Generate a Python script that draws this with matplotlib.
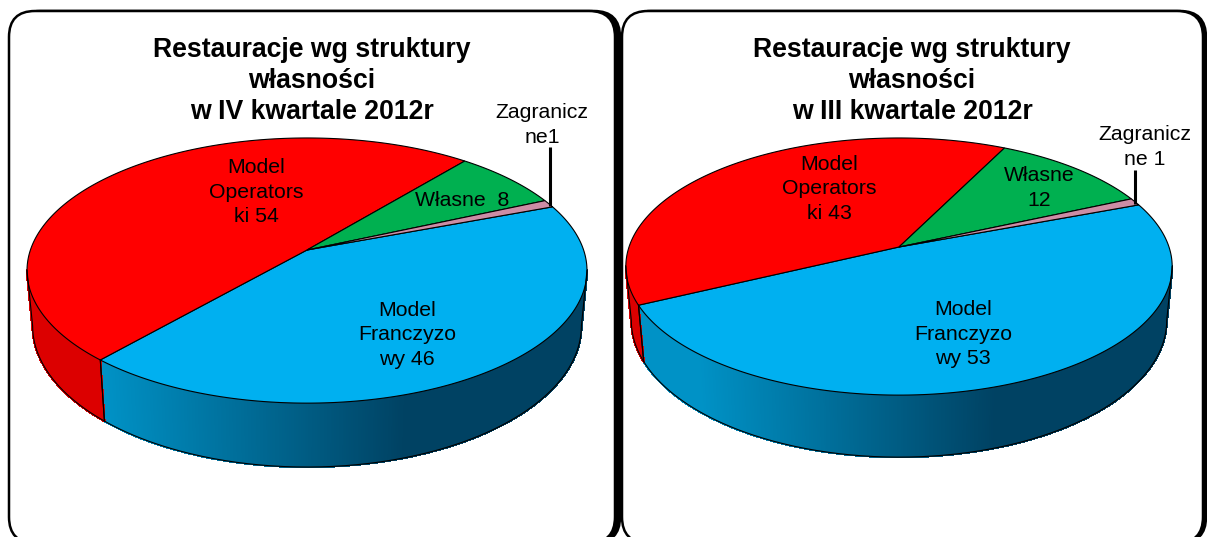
import matplotlib
matplotlib.use('Agg')
import matplotlib.pyplot as plt
import numpy as np
from matplotlib.collections import PolyCollection
from matplotlib.colors import to_rgb
from matplotlib.patches import FancyBboxPatch, Polygon

plt.rcParams['font.family'] = ['Liberation Sans', 'DejaVu Sans']

# values, clockwise from the right side of each pie
categories = ['Model Franczyzowy', 'Model Operatorski', 'Własne', 'Zagraniczne']
values_q4 = [46, 54, 8, 1]
values_q3 = [53, 43, 12, 1]
colors = ['#00B0F0', '#FF0000', '#00B050', '#CC8DA5']
side_light = ['#0092C6', '#DC0000', '#009040', '#A87488']
side_dark = ['#004263', '#C00000', '#007030', '#80586A']

titles = ['Restauracje wg struktury\nwłasności\nw IV kwartale 2012r',
          'Restauracje wg struktury\nwłasności\nw III kwartale 2012r']
labels_q4 = ['Model\nFranczyzo\nwy 46', 'Model\nOperators\nki 54', 'Własne  8', 'Zagranicz\nne1']
labels_q3 = ['Model\nFranczyzo\nwy 53', 'Model\nOperators\nki 43', 'Własne\n12', 'Zagranicz\nne 1']


def project(t, g, level=0.0):
    # circle to screen with a bit of perspective, far side is smaller
    w = 1 + g['k'] * np.sin(t)
    scale = 1 - 0.02 * level
    x = g['cx'] + scale * g['rx'] * np.cos(t) / w
    y = g['cy'] - g['ry'] * np.sin(t) / w + level * g['depth'] / w
    return x, y


def draw_pie(ax, values, g):
    fracs = np.array(values) / sum(values)
    edges = np.radians(g['start']) - 2 * np.pi * np.concatenate([[0], np.cumsum(fracs)])
    left = np.pi + np.arcsin(g['k'])
    right = 2 * np.pi - np.arcsin(g['k'])

    # rim first
    for i in range(len(values)):
        t1, t0 = edges[i] % (2 * np.pi), edges[i + 1] % (2 * np.pi)
        if t1 < t0:
            t1 += 2 * np.pi
        a, b = max(t0, left), min(t1, right)
        if a >= b:
            continue
        ts = np.linspace(a, b, 400)
        polys, cols = [], []
        light, dark = np.array(to_rgb(side_light[i])), np.array(to_rgb(side_dark[i]))
        x0 = g['cx'] - 0.74 * g['rx']
        x1 = g['cx'] + 0.36 * g['rx']
        for u, v in zip(ts[:-1], ts[1:]):
            xa, ya = project(u, g)
            xb, yb = project(v, g)
            xc, yc = project(v, g, 1)
            xd, yd = project(u, g, 1)
            polys.append([(xa, ya), (xb, yb), (xc, yc), (xd, yd)])
            f = np.clip(((xa + xb) / 2 - x0) / (x1 - x0), 0, 1)
            cols.append(light + (dark - light) * f)
        ax.add_collection(PolyCollection(polys, facecolors=cols, edgecolors=cols,
                                         linewidths=1.0, antialiaseds=False))
        # divider on the rim
        for t in (a, b):
            if t not in (left, right):
                xt, yt = project(t, g)
                xd, yd = project(t, g, 1)
                ax.plot([xt, xd], [yt, yd], color='black', lw=0.8)

    # outline of the rim
    ts = np.linspace(left, right, 300)
    xb, yb = project(ts, g, 1)
    xt0, yt0 = project(left, g)
    xt1, yt1 = project(right, g)
    ax.plot(np.r_[xt0, xb, xt1], np.r_[yt0, yb, yt1], color='black', lw=0.8)

    # top face
    for i in range(len(values)):
        ts = np.linspace(edges[i], edges[i + 1], 200)
        x, y = project(ts, g)
        pts = np.column_stack([np.r_[g['cx'], x], np.r_[g['cy'], y]])
        ax.add_patch(Polygon(pts, closed=True, facecolor=colors[i], edgecolor='black', lw=0.8))


def draw_panel(ax, x0, x1, shadow):
    top, bottom, r = 11, 543, 26
    for dx, face in [(shadow, 'black'), (0, 'white')]:
        ax.add_patch(FancyBboxPatch((x0 + r + dx, top + r), x1 - x0 - 2 * r, bottom - top - 2 * r,
                                    boxstyle='round,pad=%d,rounding_size=%d' % (r, r),
                                    facecolor=face, edgecolor='black', lw=1.8))


fig = plt.figure(figsize=(12.07, 5.37), dpi=100)
ax = fig.add_axes([0, 0, 1, 1])
ax.set_xlim(0, 1207)
ax.set_ylim(537, 0)
ax.axis('off')

draw_panel(ax, 9, 615, 5)
draw_panel(ax, 622, 1203, 3)

geom_q4 = dict(cx=307, cy=250, rx=276.6, ry=129.4, k=0.155, depth=54, start=20.6)
geom_q3 = dict(cx=899, cy=247, rx=270, ry=125.6, k=0.152, depth=52.6, start=20.7)
draw_pie(ax, values_q4, geom_q4)
draw_pie(ax, values_q3, geom_q3)

# titles
ax.text(312, 81, titles[0], ha='center', va='center', fontsize=19.2, fontweight='bold', linespacing=1.25)
ax.text(912, 81, titles[1], ha='center', va='center', fontsize=19.2, fontweight='bold', linespacing=1.25)

# slice labels
pos_q4 = [(407, 335), (256, 192), (462, 201), (542, 125)]
pos_q3 = [(963, 334), (829, 189), (1039, 188), (1145, 147)]
for lab, (x, y) in zip(labels_q4, pos_q4):
    ax.text(x, y, lab, ha='center', va='center', fontsize=15.3, linespacing=1.38)
for lab, (x, y) in zip(labels_q3, pos_q3):
    ax.text(x, y, lab, ha='center', va='center', fontsize=15.3, linespacing=1.38)

# leader lines
ax.plot([550, 550], [147, 206], color='black', lw=2.2, solid_capstyle='butt')
ax.plot([1135, 1135], [170, 204], color='black', lw=2.2, solid_capstyle='butt')

fig.savefig('out.png', dpi=100)
